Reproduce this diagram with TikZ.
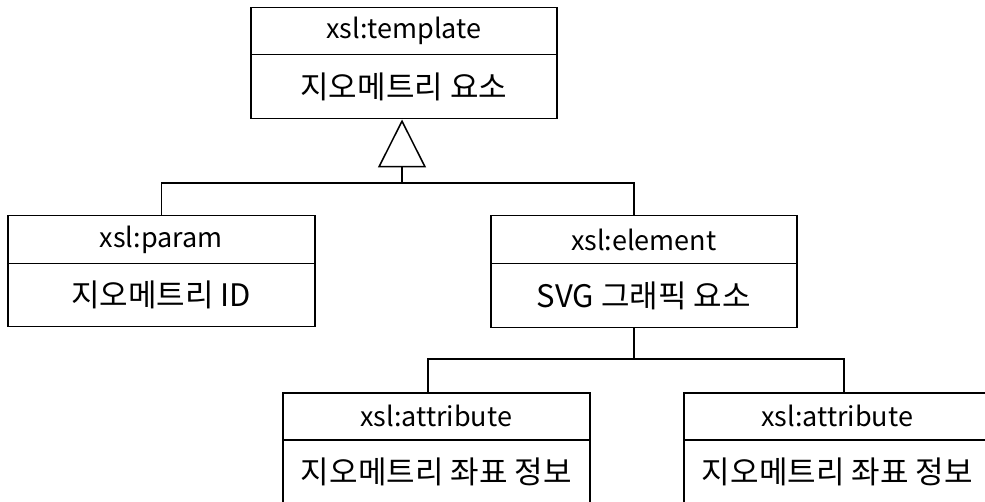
\documentclass[tikz,border=0pt]{standalone}
\usepackage{fontspec}
\setmainfont{Noto Sans CJK KR}
\usetikzlibrary{arrows.meta}
\begin{document}
\begin{tikzpicture}[x=1pt,y=1pt,
  boxline/.style={draw, line width=1.5pt, anchor=north west, inner sep=0pt},
  head/.style={boxline, minimum width=#1, minimum height=47, font=\fontsize{27}{30}\selectfont},
  body/.style={boxline, minimum width=#1, minimum height=64, font=\fontsize{31}{34}\selectfont},
  link/.style={line width=1.5pt},
  inherit/.style={line width=1.5pt, -{Triangle[open, length=48pt, width=48pt, line width=1.5pt]}}
]
\useasboundingbox (0,0) rectangle (985,-502);

% superclass
\node[head=306] (tplH) at (250,-7) {xsl:template};
\node[body=306] (tplB) at (250,-54) {지오메트리 요소};

% children of xsl:template
\node[head=307, minimum height=48] (parH) at (7,-215) {xsl:param};
\node[body=307, minimum height=63] (parB) at (7,-263) {지오메트리 ID};

\node[head=306, minimum height=48] (elH) at (490,-215) {xsl:element};
\node[body=306] (elB) at (490,-263) {SVG 그래픽 요소};

% children of xsl:element
\node[head=307] (at1H) at (282,-392) {xsl:attribute};
\node[body=307] (at1B) at (282,-439) {지오메트리 좌표 정보};

\node[head=307] (at2H) at (683,-392) {xsl:attribute};
\node[body=307] (at2B) at (683,-439) {지오메트리 좌표 정보};

% generalisation tree
\coordinate (j1) at (402,-183);
\coordinate (j1L) at (parH.north |- j1);
\coordinate (j1R) at (634,-183);
\draw[inherit] (j1) -- (tplB.south -| j1);
\draw[link] (parH.north -| j1L) -- (j1L) -- (j1R) -- (elH.north -| j1R);

% composition tree
\coordinate (j2) at (634,-359);
\coordinate (j2L) at (428,-359);
\coordinate (j2R) at (844,-359);
\draw[link] (elB.south -| j2) -- (j2);
\draw[link] (at1H.north -| j2L) -- (j2L) -- (j2R) -- (at2H.north -| j2R);
\end{tikzpicture}
\end{document}
